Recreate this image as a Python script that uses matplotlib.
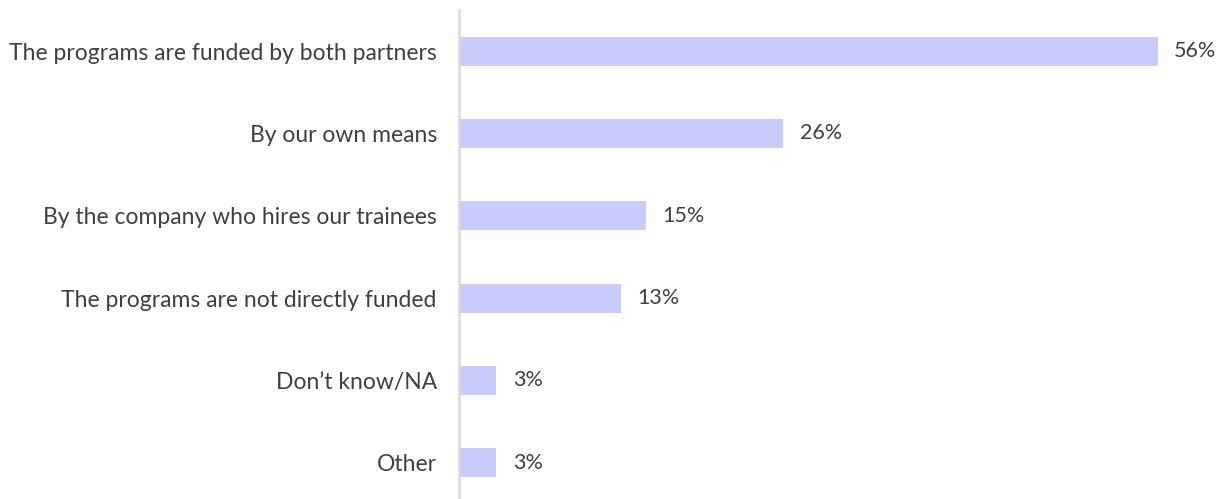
import matplotlib.pyplot as plt

# funding sources, share of respondents (%)
categories = [
    "The programs are funded by both partners",
    "By our own means",
    "By the company who hires our trainees",
    "The programs are not directly funded",
    "Don\u2019t know/NA",
    "Other",
]
values = [56, 26, 15, 13, 3, 3]

plt.rcParams['font.family'] = ['Lato', 'DejaVu Sans']
text_color = '#404040'

fig = plt.figure(figsize=(12.2, 4.99), dpi=100)
ax = fig.add_axes([459 / 1220, 0, 761 / 1220, 489 / 499])

ypos = range(len(categories))
ax.barh(ypos, values, height=0.35, color='#C8CCFC')
for y, v in zip(ypos, values):
    ax.text(v + 1.3, y, f"{v}%", va='center', ha='left', fontsize=15.5, color=text_color)

ax.set_yticks(list(ypos))
ax.set_yticklabels(categories, fontsize=16.5, color=text_color)
ax.tick_params(axis='y', length=0, pad=16)
ax.set_xticks([])
ax.set_xlim(0, 61)
ax.set_ylim(5.44, -0.5)

for side in ['top', 'right', 'bottom']:
    ax.spines[side].set_visible(False)
ax.spines['left'].set_color('#D9D9D9')
ax.spines['left'].set_linewidth(1.8)

fig.savefig("out.png", dpi=100)
